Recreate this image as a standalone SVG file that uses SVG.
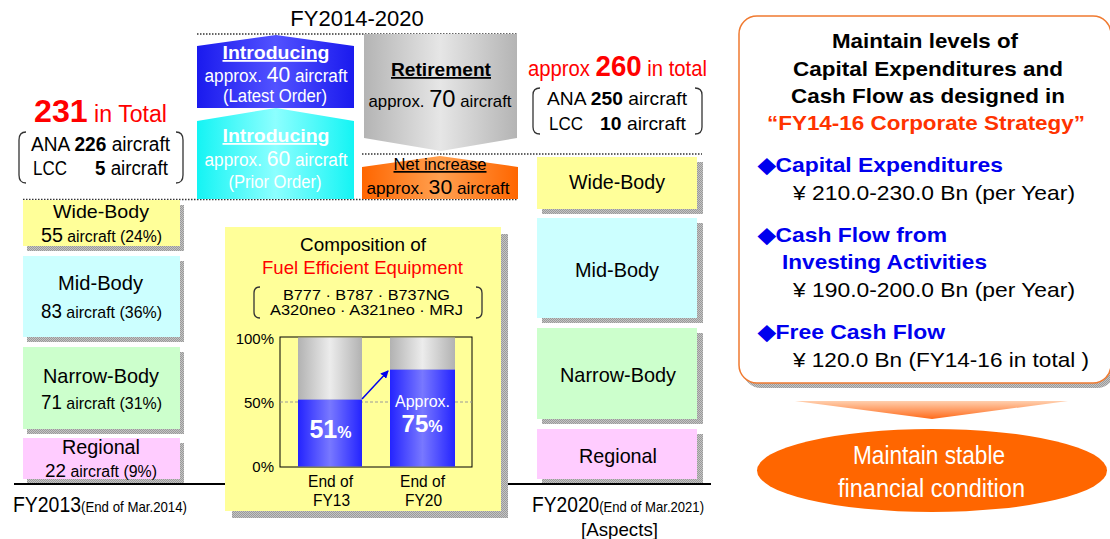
<svg xmlns="http://www.w3.org/2000/svg" width="1110" height="539" viewBox="0 0 1110 539">
  <defs>
    <style>
      text { font-family: "Liberation Sans", Arial, sans-serif; fill: #000; }
      .c { text-anchor: middle; }
      .b { font-weight: bold; }
      .w { fill: #fff; }
      .red { fill: #ff0000; }
      .blue { fill: #0000ee; }
      .u { text-decoration: underline; }
      .dot { stroke: #333; stroke-width: 1.5; stroke-dasharray: 1.5 1.5; fill: none; }
      .brk { stroke: #333; stroke-width: 1.3; fill: none; }
      .shadow { fill: url(#hatch); }
    </style>
    <pattern id="hatch" width="2" height="2" patternUnits="userSpaceOnUse">
      <rect width="2" height="2" fill="#c4c4c4"/>
      <rect width="1" height="1" fill="#9a9a9a"/>
      <rect x="1" y="1" width="1" height="1" fill="#9a9a9a"/>
    </pattern>
    <linearGradient id="gBlue" x1="0" y1="0" x2="1" y2="0">
      <stop offset="0" stop-color="#1a1aee"/>
      <stop offset="0.5" stop-color="#5252ff"/>
      <stop offset="1" stop-color="#1a1aee"/>
    </linearGradient>
    <linearGradient id="gCyan" x1="0" y1="0" x2="1" y2="0">
      <stop offset="0" stop-color="#14f4f4"/>
      <stop offset="0.5" stop-color="#8cffff"/>
      <stop offset="1" stop-color="#14f4f4"/>
    </linearGradient>
    <linearGradient id="gGray" x1="0" y1="0" x2="1" y2="0">
      <stop offset="0" stop-color="#b4b4b4"/>
      <stop offset="0.5" stop-color="#e6e6e6"/>
      <stop offset="1" stop-color="#b4b4b4"/>
    </linearGradient>
    <linearGradient id="gOrange" x1="0" y1="0" x2="1" y2="0">
      <stop offset="0" stop-color="#ff6600"/>
      <stop offset="0.5" stop-color="#ffa050"/>
      <stop offset="1" stop-color="#ff6600"/>
    </linearGradient>
    <linearGradient id="gBar" x1="0" y1="0" x2="1" y2="0">
      <stop offset="0" stop-color="#2424ff"/>
      <stop offset="0.5" stop-color="#7878ff"/>
      <stop offset="1" stop-color="#2424ff"/>
    </linearGradient>
    <linearGradient id="gBarTop" x1="0" y1="0" x2="1" y2="0">
      <stop offset="0" stop-color="#b2b2b2"/>
      <stop offset="0.5" stop-color="#ececec"/>
      <stop offset="1" stop-color="#b2b2b2"/>
    </linearGradient>
    <linearGradient id="gDown" x1="0" y1="0" x2="0" y2="1">
      <stop offset="0" stop-color="#ffcfae"/>
      <stop offset="1" stop-color="#ff6a1a"/>
    </linearGradient>
    <marker id="arr" markerWidth="8" markerHeight="8" refX="7" refY="4" orient="auto" markerUnits="userSpaceOnUse">
      <path d="M0,0 L8,4 L0,8 z" fill="#0000ee"/>
    </marker>
  </defs>

  <rect width="1110" height="539" fill="#fff"/>

  <!-- period heading -->
  <text class="c" x="357" y="26" font-size="22">FY2014-2020</text>

  <!-- guide lines -->
  <g id="connectors">
    <line class="dot" x1="197" y1="34" x2="518" y2="34"/>
    <line class="dot" x1="362" y1="154" x2="702" y2="154"/>
    <line class="dot" x1="23" y1="199.5" x2="518" y2="199.5"/>
    <line x1="14" y1="484" x2="711" y2="484" stroke="#000" stroke-width="2"/>
  </g>

  <!-- introductions -->
  <g id="intro-latest">
    <polygon points="197,108 197,46 276,35 354,46 354,108" fill="url(#gBlue)"/>
    <text class="c w b u" x="276" y="59" font-size="18" textLength="107" lengthAdjust="spacingAndGlyphs">Introducing</text>
    <text class="c w" x="276" y="82" font-size="18" textLength="143" lengthAdjust="spacingAndGlyphs">approx. <tspan font-size="22">40</tspan> aircraft</text>
    <text class="c w" x="275" y="102" font-size="18" textLength="104" lengthAdjust="spacingAndGlyphs">(Latest Order)</text>
  </g>
  <g id="intro-prior">
    <polygon points="197,199 197,121 276,108 354,121 354,199" fill="url(#gCyan)"/>
    <text class="c w b u" x="276" y="142" font-size="18" textLength="107" lengthAdjust="spacingAndGlyphs">Introducing</text>
    <text class="c w" x="276" y="166" font-size="18" textLength="143" lengthAdjust="spacingAndGlyphs">approx. <tspan font-size="22">60</tspan> aircraft</text>
    <text class="c w" x="275" y="188" font-size="18" textLength="93" lengthAdjust="spacingAndGlyphs">(Prior Order)</text>
  </g>

  <!-- retirement / net increase -->
  <g id="retirement">
    <polygon points="364,34 517,34 517,138 441,151 364,138" fill="url(#gGray)"/>
    <text class="c b u" x="441" y="76" font-size="18" textLength="100" lengthAdjust="spacingAndGlyphs">Retirement</text>
    <text class="c" x="440" y="107" font-size="17" textLength="143" lengthAdjust="spacingAndGlyphs">approx. <tspan font-size="24">70</tspan> aircraft</text>
  </g>
  <g id="net-increase">
    <polygon points="362,199 362,167 440,156 518,167 518,199" fill="url(#gOrange)"/>
    <text class="c u" x="440" y="170" font-size="17" textLength="93" lengthAdjust="spacingAndGlyphs">Net increase</text>
    <text class="c" x="438" y="194" font-size="17" textLength="143" lengthAdjust="spacingAndGlyphs">approx. <tspan font-size="21">30</tspan> aircraft</text>
  </g>

  <!-- fleet totals -->
  <g id="total-2013">
    <text x="34" y="122" font-size="23" class="red" textLength="133" lengthAdjust="spacingAndGlyphs"><tspan class="b" font-size="32">231</tspan> in Total</text>
    <path class="brk" d="M26,132 Q19,132 19,140 V175 Q19,183 26,183"/>
    <path class="brk" d="M176,132 Q183,132 183,140 V175 Q183,183 176,183"/>
    <text x="31" y="151" font-size="20" textLength="139" lengthAdjust="spacingAndGlyphs">ANA <tspan class="b">226</tspan> aircraft</text>
    <text x="33" y="175" font-size="20" textLength="34" lengthAdjust="spacingAndGlyphs">LCC</text>
    <text x="95" y="175" font-size="20" textLength="73" lengthAdjust="spacingAndGlyphs"><tspan class="b">5</tspan> aircraft</text>
  </g>
  <g id="total-2020">
    <text x="528" y="76" font-size="22" class="red" textLength="179" lengthAdjust="spacingAndGlyphs">approx <tspan class="b" font-size="30">260</tspan> in total</text>
    <path class="brk" d="M540,88 Q533,88 533,95 V127 Q533,134 540,134"/>
    <path class="brk" d="M695,88 Q702,88 702,95 V127 Q702,134 695,134"/>
    <text x="547" y="105" font-size="19" textLength="140" lengthAdjust="spacingAndGlyphs">ANA <tspan class="b">250</tspan> aircraft</text>
    <text x="549" y="130" font-size="19" textLength="34" lengthAdjust="spacingAndGlyphs">LCC</text>
    <text x="600" y="130" font-size="19" textLength="86" lengthAdjust="spacingAndGlyphs"><tspan class="b">10</tspan> aircraft</text>
  </g>

  <!-- FY2013 fleet mix -->
  <g id="fy13-wide">
    <rect class="shadow" x="27" y="205" width="157" height="46"/>
    <rect x="23" y="200" width="157" height="46" fill="#ffff99"/>
    <text class="c" x="101" y="218" font-size="19" textLength="96" lengthAdjust="spacingAndGlyphs">Wide-Body</text>
    <text class="c" x="101.5" y="242" font-size="16" textLength="121" lengthAdjust="spacingAndGlyphs"><tspan font-size="20">55</tspan> aircraft (24%)</text>
  </g>
  <g id="fy13-mid">
    <rect class="shadow" x="27" y="261" width="157" height="81"/>
    <rect x="23" y="256" width="157" height="81" fill="#ccffff"/>
    <text class="c" x="100.5" y="290" font-size="21" textLength="85" lengthAdjust="spacingAndGlyphs">Mid-Body</text>
    <text class="c" x="101.5" y="318" font-size="17" textLength="121" lengthAdjust="spacingAndGlyphs"><tspan font-size="20">83</tspan> aircraft (36%)</text>
  </g>
  <g id="fy13-narrow">
    <rect class="shadow" x="27" y="352" width="157" height="82"/>
    <rect x="23" y="347" width="157" height="82" fill="#ccffcc"/>
    <text class="c" x="101" y="383" font-size="21" textLength="116" lengthAdjust="spacingAndGlyphs">Narrow-Body</text>
    <text class="c" x="101.5" y="409" font-size="17" textLength="121" lengthAdjust="spacingAndGlyphs"><tspan font-size="20">71</tspan> aircraft (31%)</text>
  </g>
  <g id="fy13-regional">
    <rect class="shadow" x="27" y="443" width="157" height="40"/>
    <rect x="23" y="438" width="157" height="41" fill="#ffccff"/>
    <text class="c" x="101" y="454" font-size="20" textLength="78" lengthAdjust="spacingAndGlyphs">Regional</text>
    <text class="c" x="101" y="477" font-size="16" textLength="112" lengthAdjust="spacingAndGlyphs"><tspan font-size="19">22</tspan> aircraft (9%)</text>
  </g>
  <text x="13" y="512" font-size="15" textLength="174" lengthAdjust="spacingAndGlyphs"><tspan font-size="22">FY2013</tspan>(End of Mar.2014)</text>

  <!-- FY2020 fleet mix -->
  <g id="fy20-wide">
    <rect class="shadow" x="542" y="162" width="161" height="52"/>
    <rect x="537" y="157" width="160" height="52" fill="#ffff99"/>
    <text class="c" x="617" y="189" font-size="21" textLength="96" lengthAdjust="spacingAndGlyphs">Wide-Body</text>
  </g>
  <g id="fy20-mid">
    <rect class="shadow" x="542" y="223" width="161" height="100"/>
    <rect x="537" y="218" width="160" height="100" fill="#ccffff"/>
    <text class="c" x="617" y="277" font-size="21" textLength="84" lengthAdjust="spacingAndGlyphs">Mid-Body</text>
  </g>
  <g id="fy20-narrow">
    <rect class="shadow" x="542" y="333" width="161" height="91"/>
    <rect x="537" y="328" width="160" height="91" fill="#ccffcc"/>
    <text class="c" x="618" y="382" font-size="21" textLength="116" lengthAdjust="spacingAndGlyphs">Narrow-Body</text>
  </g>
  <g id="fy20-regional">
    <rect class="shadow" x="542" y="434" width="161" height="49"/>
    <rect x="537" y="429" width="160" height="50" fill="#ffccff"/>
    <text class="c" x="618" y="463" font-size="21" textLength="78" lengthAdjust="spacingAndGlyphs">Regional</text>
  </g>
  <text x="532" y="512" font-size="15" textLength="172" lengthAdjust="spacingAndGlyphs"><tspan font-size="22">FY2020</tspan>(End of Mar.2021)</text>
  <text class="c" x="619.5" y="536" font-size="19" textLength="77" lengthAdjust="spacingAndGlyphs">[Aspects]</text>

  <!-- fuel-efficient composition panel -->
  <g id="composition">
    <rect class="shadow" x="232" y="234" width="276" height="284"/>
    <rect x="225" y="227" width="276" height="284" fill="#ffff99"/>
    <text class="c" x="363" y="251" font-size="19" textLength="126" lengthAdjust="spacingAndGlyphs">Composition of</text>
    <text class="c red" x="362.5" y="274" font-size="19" textLength="201" lengthAdjust="spacingAndGlyphs">Fuel Efficient Equipment</text>
    <path class="brk" d="M260,287 Q254,287 254,293 V312 Q254,318 260,318"/>
    <path class="brk" d="M476,287 Q482,287 482,293 V312 Q482,318 476,318"/>
    <text class="c" x="366.5" y="300" font-size="14" textLength="167" lengthAdjust="spacingAndGlyphs">B777 · B787 · B737NG</text>
    <text class="c" x="366.5" y="315" font-size="14" textLength="193" lengthAdjust="spacingAndGlyphs">A320neo · A321neo · MRJ</text>

    <!-- bar chart -->
    <rect x="280" y="337" width="192" height="130" fill="none" stroke="#000" stroke-width="1"/>
    <line x1="280" y1="402" x2="472" y2="402" stroke="#999" stroke-width="1" stroke-dasharray="3 2"/>
    <rect x="298" y="337.5" width="64" height="62" fill="url(#gBarTop)"/>
    <rect x="298" y="399.5" width="64" height="67" fill="url(#gBar)"/>
    <rect x="390" y="337.5" width="65" height="32" fill="url(#gBarTop)"/>
    <rect x="390" y="369.5" width="65" height="97" fill="url(#gBar)"/>
    <line x1="362" y1="399" x2="388" y2="371" stroke="#0000ee" stroke-width="1.5" marker-end="url(#arr)"/>
    <text x="274" y="344" font-size="15" text-anchor="end">100%</text>
    <text x="274" y="408" font-size="15" text-anchor="end">50%</text>
    <text x="274" y="472" font-size="15" text-anchor="end">0%</text>
    <text class="c w b" x="330.5" y="438" font-size="25">51<tspan font-size="16">%</tspan></text>
    <text class="c w" x="422.5" y="407" font-size="16" textLength="55" lengthAdjust="spacingAndGlyphs">Approx.</text>
    <text class="c w b" x="422" y="432" font-size="24">75<tspan font-size="16">%</tspan></text>
    <text class="c" x="330.5" y="487" font-size="17" textLength="45" lengthAdjust="spacingAndGlyphs">End of</text>
    <text class="c" x="331.5" y="506" font-size="17" textLength="37" lengthAdjust="spacingAndGlyphs">FY13</text>
    <text class="c" x="422.5" y="487" font-size="17" textLength="45" lengthAdjust="spacingAndGlyphs">End of</text>
    <text class="c" x="423.5" y="506" font-size="17" textLength="37" lengthAdjust="spacingAndGlyphs">FY20</text>
  </g>

  <!-- financial policy panel -->
  <g id="policy">
    <rect class="shadow" x="743" y="21" width="372" height="367" rx="18"/>
    <rect x="739" y="16" width="372" height="367" rx="18" fill="#fff" stroke="#f07a30" stroke-width="1.5"/>
    <text class="c b" x="925" y="48" font-size="21" textLength="186" lengthAdjust="spacingAndGlyphs">Maintain levels of</text>
    <text class="c b" x="928" y="76" font-size="21" textLength="270" lengthAdjust="spacingAndGlyphs">Capital Expenditures and</text>
    <text class="c b" x="928" y="103" font-size="21" textLength="274" lengthAdjust="spacingAndGlyphs">Cash Flow as designed in</text>
    <text class="c b" x="926" y="130" font-size="21" style="fill:#ff3300" textLength="318" lengthAdjust="spacingAndGlyphs">“FY14-16 Corporate Strategy”</text>

    <text class="b blue" x="758" y="172" font-size="21" textLength="245" lengthAdjust="spacingAndGlyphs">◆Capital Expenditures</text>
    <text x="793" y="200" font-size="21" textLength="282" lengthAdjust="spacingAndGlyphs">¥ 210.0-230.0 Bn (per Year)</text>
    <text class="b blue" x="758" y="242" font-size="21" textLength="189" lengthAdjust="spacingAndGlyphs">◆Cash Flow from</text>
    <text class="b blue" x="782" y="269" font-size="21" textLength="205" lengthAdjust="spacingAndGlyphs">Investing Activities</text>
    <text x="793" y="297" font-size="21" textLength="282" lengthAdjust="spacingAndGlyphs">¥ 190.0-200.0 Bn (per Year)</text>
    <text class="b blue" x="758" y="339" font-size="21" textLength="187" lengthAdjust="spacingAndGlyphs">◆Free Cash Flow</text>
    <text x="793" y="367" font-size="21" textLength="296" lengthAdjust="spacingAndGlyphs">¥ 120.0 Bn (FY14-16 in total )</text>
  </g>

  <!-- outcome -->
  <g id="outcome">
    <polygon points="795,401 1068,401 932,419" fill="url(#gDown)"/>
    <ellipse cx="932" cy="470.5" rx="175" ry="41.5" fill="#ff6600"/>
    <text class="c w" x="929" y="464" font-size="25" textLength="152" lengthAdjust="spacingAndGlyphs">Maintain stable</text>
    <text class="c w" x="931.5" y="497" font-size="25" textLength="187" lengthAdjust="spacingAndGlyphs">financial condition</text>
  </g>
</svg>
